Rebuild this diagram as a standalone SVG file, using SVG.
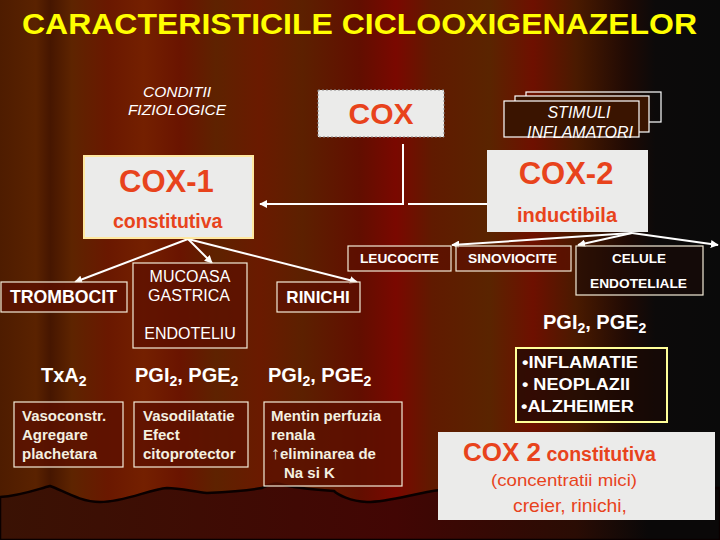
<svg xmlns="http://www.w3.org/2000/svg" width="720" height="540" viewBox="0 0 720 540">
<defs>
<linearGradient id="bg" x1="0" y1="0" x2="1" y2="0">
<stop offset="0" stop-color="#4e1c00"/>
<stop offset="0.05" stop-color="#5a2200"/>
<stop offset="0.07" stop-color="#461600"/>
<stop offset="0.1" stop-color="#5e2400"/>
<stop offset="0.15" stop-color="#6a1800"/>
<stop offset="0.2" stop-color="#742000"/>
<stop offset="0.25" stop-color="#6a1400"/>
<stop offset="0.3" stop-color="#5e2200"/>
<stop offset="0.36" stop-color="#6a1a00"/>
<stop offset="0.42" stop-color="#5c2000"/>
<stop offset="0.5" stop-color="#620e00"/>
<stop offset="0.55" stop-color="#7a0800"/>
<stop offset="0.6" stop-color="#601a00"/>
<stop offset="0.68" stop-color="#5a2400"/>
<stop offset="0.74" stop-color="#6e1000"/>
<stop offset="0.8" stop-color="#4a1a00"/>
<stop offset="0.87" stop-color="#200a04"/>
<stop offset="0.91" stop-color="#0c0a0a"/>
<stop offset="1" stop-color="#0a0a0a"/>
</linearGradient>
<linearGradient id="floor" x1="0" y1="0" x2="1" y2="0">
<stop offset="0" stop-color="#3a1204"/>
<stop offset="0.55" stop-color="#420604"/>
<stop offset="0.8" stop-color="#2a0c04"/>
<stop offset="0.9" stop-color="#0a0808"/>
<stop offset="1" stop-color="#0a0808"/>
</linearGradient>
<marker id="arr" viewBox="0 0 10 10" refX="9" refY="5" markerWidth="8" markerHeight="8" markerUnits="userSpaceOnUse" orient="auto">
<path d="M0,0 L10,5 L0,10 z" fill="#ffffff"/>
</marker>
</defs>
<style>
.t{font-family:"Liberation Sans",Arial,sans-serif;}
.w{fill:#ffffff;}
.wb{fill:#ffffff;font-weight:bold;}
.red{fill:#e8431c;}
.lbox{fill:#ebebea;}
.dbox{fill:#5c1000;fill-opacity:0.75;stroke:#f4ecd8;stroke-width:1.2;}
.conn{stroke:#ffffff;stroke-width:2;fill:none;}
.eff{fill:#f4f0e0;font-size:15px;font-weight:bold;}
.pg{fill:#ffffff;font-weight:bold;font-size:20px;}
.sub{font-size:14px;}
</style>
<rect x="0" y="0" width="720" height="540" fill="url(#bg)"/>
<path d="M0,497 C20,496 38,489 50,486 C62,490 80,502 100,502 C125,502 150,489 167,488 C180,488 195,492 207,493 C225,492 250,490 262,488 C270,484 276,483 280,484 C290,487 320,490 334,491 C338,495 350,501 367,502 C390,502 415,493 440,490 L720,488 L720,540 L0,540 z" fill="url(#floor)" stroke="#0a0000" stroke-width="2.5"/>

<text class="t" x="22" y="34" font-size="29" font-weight="bold" fill="#ffff00" textLength="675" lengthAdjust="spacingAndGlyphs">CARACTERISTICILE CICLOOXIGENAZELOR</text>

<g id="conditii">
<text class="t w" x="177" y="97" font-size="15.5" font-style="italic" text-anchor="middle">CONDITII</text>
<text class="t w" x="177" y="115" font-size="15.5" font-style="italic" text-anchor="middle">FIZIOLOGICE</text>
</g>

<g id="stimuli">
<rect x="526" y="92" width="135" height="30" fill="none" stroke="#ffffff" stroke-width="1.2"/>
<rect x="515" y="96" width="134" height="36" fill="#3a1400" stroke="#ffffff" stroke-width="1.2"/>
<rect x="504" y="101" width="135" height="36" fill="#3a1400" stroke="#ffffff" stroke-width="1.2"/>
<text class="t w" x="579" y="118" font-size="16" font-style="italic" text-anchor="middle">STIMULI</text>
<text class="t w" x="580" y="138" font-size="16" font-style="italic" text-anchor="middle">INFLAMATORI</text>
</g>

<g id="connectors">
<polyline class="conn" points="403,144 403,204 260,204" marker-end="url(#arr)"/>
<line class="conn" x1="408" y1="204" x2="487" y2="204"/>
<line class="conn" x1="188" y1="239" x2="75" y2="282" marker-end="url(#arr)"/>
<line class="conn" x1="188" y1="239" x2="212" y2="263" marker-end="url(#arr)"/>
<line class="conn" x1="188" y1="239" x2="357" y2="282" marker-end="url(#arr)"/>
<line class="conn" x1="632" y1="233" x2="452" y2="245" marker-end="url(#arr)"/>
<line class="conn" x1="632" y1="233" x2="578" y2="245" marker-end="url(#arr)"/>
<line class="conn" x1="632" y1="233" x2="718" y2="245" marker-end="url(#arr)"/>
</g>

<g id="cox">
<rect x="318" y="90" width="126" height="47" class="lbox" stroke="#888888" stroke-width="1" stroke-dasharray="2,2"/>
<text class="t red" x="381" y="124" font-size="30" font-weight="bold" text-anchor="middle">COX</text>
</g>

<g id="cox1">
<rect x="84" y="156" width="169" height="82" class="lbox" stroke="#ffe8a0" stroke-width="2"/>
<text class="t red" x="119" y="192" font-size="31" font-weight="bold">COX-1</text>
<text class="t red" x="113" y="228" font-size="19.5" font-weight="bold">constitutiva</text>
</g>

<g id="cox2">
<rect x="487" y="150" width="161" height="82" class="lbox"/>
<text class="t red" x="566" y="184" font-size="31" font-weight="bold" text-anchor="middle">COX-2</text>
<text class="t red" x="567" y="222" font-size="20" font-weight="bold" text-anchor="middle">inductibila</text>
</g>

<g id="leucocite">
<rect x="348" y="246" width="103" height="25" class="dbox"/>
<text class="t wb" x="360" y="263" font-size="13" textLength="79" lengthAdjust="spacingAndGlyphs">LEUCOCITE</text>
</g>
<g id="sinoviocite">
<rect x="456" y="246" width="115" height="25" class="dbox"/>
<text class="t wb" x="468" y="263" font-size="13" textLength="89" lengthAdjust="spacingAndGlyphs">SINOVIOCITE</text>
</g>
<g id="celule">
<rect x="576" y="246" width="127" height="49" fill="#1a0a06" fill-opacity="0.6" stroke="#f4ecd8" stroke-width="1.2"/>
<text class="t wb" x="639" y="263" font-size="13.5" text-anchor="middle">CELULE</text>
<text class="t wb" x="590" y="288" font-size="13" textLength="97" lengthAdjust="spacingAndGlyphs">ENDOTELIALE</text>
</g>
<text class="t pg" x="543" y="329">PGI<tspan class="sub" dy="4">2</tspan><tspan dy="-4">, PGE</tspan><tspan class="sub" dy="4">2</tspan></text>

<g id="trombocit">
<rect x="1" y="282" width="126" height="30" class="dbox"/>
<text class="t wb" x="10" y="303" font-size="17.5" textLength="107" lengthAdjust="spacingAndGlyphs">TROMBOCIT</text>
</g>
<g id="mucoasa">
<rect x="133" y="263" width="114" height="85" class="dbox"/>
<text class="t w" x="190" y="282" font-size="16" text-anchor="middle">MUCOASA</text>
<text class="t w" x="189" y="301" font-size="16" text-anchor="middle">GASTRICA</text>
<text class="t w" x="190" y="339" font-size="16" text-anchor="middle">ENDOTELIU</text>
</g>
<g id="rinichi">
<rect x="277" y="282" width="83" height="30" class="dbox"/>
<text class="t wb" x="318" y="303" font-size="17" text-anchor="middle">RINICHI</text>
</g>

<text class="t pg" x="41" y="382" font-size="18">TxA<tspan class="sub" dy="4">2</tspan></text>
<text class="t pg" x="135" y="382">PGI<tspan class="sub" dy="4">2</tspan><tspan dy="-4">, PGE</tspan><tspan class="sub" dy="4">2</tspan></text>
<text class="t pg" x="268" y="382">PGI<tspan class="sub" dy="4">2</tspan><tspan dy="-4">, PGE</tspan><tspan class="sub" dy="4">2</tspan></text>

<g id="vasoconstr">
<rect x="14" y="402" width="109" height="65" class="dbox"/>
<text class="t eff" x="22" y="421">Vasoconstr.</text>
<text class="t eff" x="22" y="440">Agregare</text>
<text class="t eff" x="22" y="459">plachetara</text>
</g>
<g id="vasodilatatie">
<rect x="134" y="402" width="114" height="65" class="dbox"/>
<text class="t eff" x="143" y="421">Vasodilatatie</text>
<text class="t eff" x="143" y="440">Efect</text>
<text class="t eff" x="143" y="459">citoprotector</text>
</g>
<g id="mentin">
<rect x="264" y="402" width="138" height="84" class="dbox"/>
<text class="t eff" x="271" y="421">Mentin perfuzia</text>
<text class="t eff" x="271" y="440">renala</text>
<text class="t eff" x="271" y="459"><tspan font-size="18">↑</tspan>eliminarea de</text>
<text class="t eff" x="284" y="478">Na si K</text>
</g>

<g id="inflamatie">
<rect x="516" y="348" width="151" height="74" fill="#1a0804" fill-opacity="0.7" stroke="#ffff99" stroke-width="2"/>
<text class="t wb" x="522" y="368" font-size="16" textLength="116" lengthAdjust="spacingAndGlyphs">•INFLAMATIE</text>
<text class="t wb" x="522" y="390" font-size="16" textLength="108" lengthAdjust="spacingAndGlyphs">• NEOPLAZII</text>
<text class="t wb" x="521" y="412" font-size="16" textLength="113" lengthAdjust="spacingAndGlyphs">•ALZHEIMER</text>
</g>

<g id="cox2constitutiva">
<rect x="438" y="432" width="277" height="88" class="lbox"/>
<text class="t red" x="463" y="461" font-weight="bold"><tspan font-size="26">COX 2</tspan><tspan font-size="19.5"> constitutiva</tspan></text>
<text class="t red" x="491" y="486" font-size="17" textLength="146" lengthAdjust="spacingAndGlyphs">(concentratii mici)</text>
<text class="t red" x="513" y="512" font-size="19" textLength="114" lengthAdjust="spacingAndGlyphs">creier, rinichi,</text>
</g>
</svg>
